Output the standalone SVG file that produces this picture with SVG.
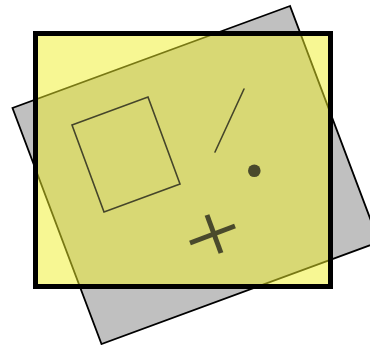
<svg xmlns="http://www.w3.org/2000/svg" width="370" height="345" viewBox="0 0 370 345">
  <style>
    .back { fill: #c0c0c0; stroke: #000; stroke-width: 1.8; stroke-linejoin: miter; }
    .veil { fill: #f0f028; fill-opacity: 0.5; stroke: none; }
    .frame { fill: none; stroke: #000; stroke-width: 5; }
    .ink { fill: none; stroke: #45452a; stroke-width: 1.6; stroke-linecap: round; }
    .thick { fill: none; stroke: #4a4a2c; stroke-width: 5; }
    .dot { fill: #4a4a2c; }
  </style>
  <g id="back-panel">
    <polygon class="back" points="290,6 12.5,108 101.5,344 379,242"/>
  </g>
  <g id="yellow-sheet">
    <rect class="veil" x="35.5" y="33.5" width="295" height="253"/>
  </g>
  <g id="tilted-square">
    <polygon class="ink" points="72,125 148,97 180,184 104,212"/>
  </g>
  <g id="stroke-line">
    <line class="ink" x1="244" y1="89" x2="215" y2="152"/>
  </g>
  <g id="dot">
    <circle class="dot" cx="254.3" cy="170.7" r="6.3"/>
  </g>
  <g id="cross">
    <line class="thick" x1="207" y1="215" x2="221" y2="253"/>
    <line class="thick" x1="190" y1="243" x2="235" y2="226"/>
  </g>
  <g id="frame">
    <rect class="frame" x="35.5" y="33.5" width="295" height="253"/>
  </g>
</svg>
